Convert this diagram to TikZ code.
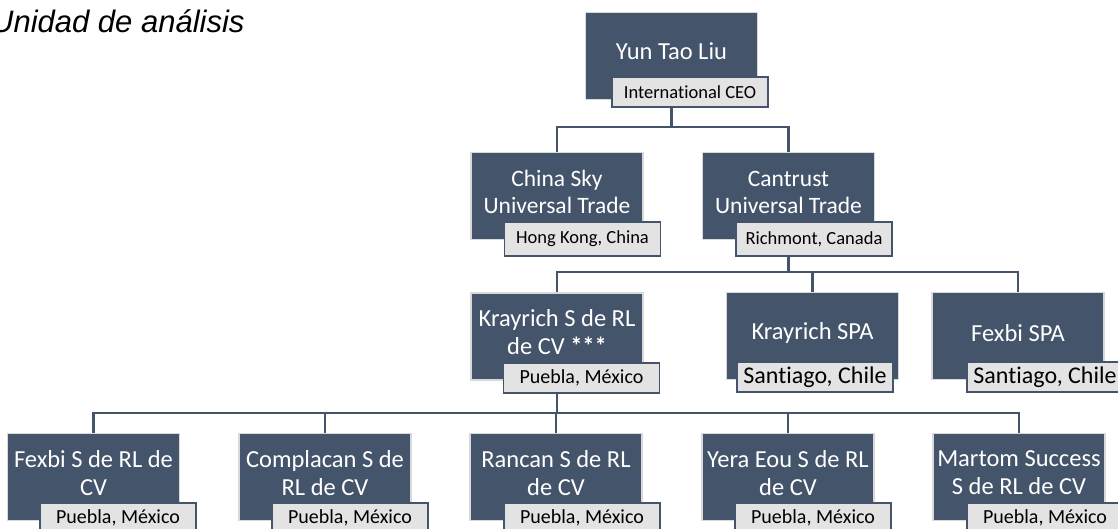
\documentclass[tikz,border=0pt]{standalone}
\usepackage{fontspec}
\setmainfont{Carlito}[Ligatures=NoCommon]
\newfontfamily\arialfont{Liberation Sans}
\usetikzlibrary{backgrounds}
\definecolor{boxc}{HTML}{44546A}
\definecolor{edgec}{HTML}{D9D9D9}
\definecolor{labc}{HTML}{E3E3E3}
\tikzset{
  boxn/.style={rectangle, fill=boxc, draw=edgec, line width=1.2pt, minimum width=172pt, minimum height=87pt, inner sep=0pt},
  txt/.style={text=white, font=\fontsize{24.5}{28}\selectfont, align=center, inner sep=0pt},
  lab/.style={rectangle, fill=labc, draw=boxc, line width=1.5pt, minimum width=156pt, minimum height=30pt, inner sep=0pt, text=black, font=\fontsize{20}{22}\selectfont},
  conn/.style={draw=boxc, line width=2.5pt}
}
\begin{document}
\begin{tikzpicture}[x=1pt,y=-1pt]
\clip (0,0) rectangle (1118,529);
\node[anchor=base west, inner sep=0pt, font=\arialfont\itshape\fontsize{31}{36}\selectfont] (title) at (-9,33) {Unidad de análisis};
\coordinate (bus1) at (0,127);
\coordinate (bus2) at (0,272);
\coordinate (bus3) at (0,413);
% level 1
\node[boxn] (ceo) at (671.5,56) {};
\node[txt] (ceot) at (671.5,51) {Yun Tao Liu};
\node[lab, font=\fontsize{18.5}{20}\selectfont] (ceol) at (690,92) {International CEO};
% level 2
\node[boxn] (chinasky) at (557,196) {};
\node[txt, font=\fontsize{23.5}{27}\selectfont] (chinaskyt) at (557,192) {China Sky\\Universal Trade};
\node[lab, minimum height=34pt, font=\fontsize{18.5}{20}\selectfont] (chinaskyl) at (582.5,239) {Hong Kong, China};
\node[boxn] (cantrust) at (788.5,196) {};
\node[txt, font=\fontsize{23.5}{27}\selectfont] (cantrustt) at (788.5,192) {Cantrust\\Universal Trade};
\node[lab, minimum height=34pt, font=\fontsize{18.5}{20}\selectfont] (cantrustl) at (814,239) {Richmont, Canada};
% level 3
\node[boxn] (krayrich) at (557,336.5) {};
\node[txt] (krayricht) at (557,332) {Krayrich S de RL\\de CV \textbf{***}};
\node[lab] (krayrichl) at (581.5,378) {Puebla, México};
\node[boxn] (kspa) at (812.5,336) {};
\node[txt] (kspat) at (812.5,333) {Krayrich SPA};
\node[lab, font=\fontsize{24}{26}\selectfont] (kspal) at (815,377) {Santiago, Chile};
\node[boxn] (fspa) at (1018,336) {};
\node[txt] (fspat) at (1018,333) {Fexbi SPA};
\node[lab, font=\fontsize{24}{26}\selectfont] (fspal) at (1045,377) {Santiago, Chile};
% level 4
\node[boxn] (fexbi) at (93.5,477) {};
\node[txt] (fexbit) at (93.5,473) {Fexbi S de RL de\\CV};
\node[lab] (fexbil) at (118,518) {Puebla, México};
\node[boxn] (compl) at (325,477) {};
\node[txt] (complt) at (325,473) {Complacan S de\\RL de CV};
\node[lab] (compll) at (350,518) {Puebla, México};
\node[boxn] (rancan) at (556,477) {};
\node[txt] (rancant) at (556,473) {Rancan S de RL\\de CV};
\node[lab] (rancanl) at (582,518) {Puebla, México};
\node[boxn] (yera) at (788,477) {};
\node[txt] (yerat) at (788,473) {Yera Eou S de RL\\de CV};
\node[lab] (yeral) at (813,518) {Puebla, México};
\node[boxn] (martom) at (1019,477) {};
\node[txt] (martomt) at (1019,473) {Martom Success\\S de RL de CV};
\node[lab] (martoml) at (1045,518) {Puebla, México};
\begin{scope}[on background layer]
\draw[conn] (ceo.south) -- (ceo.south |- bus1) -| (chinasky.north);
\draw[conn] (ceo.south |- bus1) -| (cantrust.north);
\draw[conn] (cantrust.south) -- (cantrust.south |- bus2) -| (krayrich.north);
\draw[conn] (cantrust.south |- bus2) -| (kspa.north);
\draw[conn] (cantrust.south |- bus2) -| (fspa.north);
\draw[conn] (krayrich.south) -- (krayrich.south |- bus3) -| (fexbi.north);
\draw[conn] (krayrich.south |- bus3) -| (compl.north);
\draw[conn] (krayrich.south |- bus3) -| (rancan.north);
\draw[conn] (krayrich.south |- bus3) -| (yera.north);
\draw[conn] (krayrich.south |- bus3) -| (martom.north);
\end{scope}
\end{tikzpicture}
\end{document}
